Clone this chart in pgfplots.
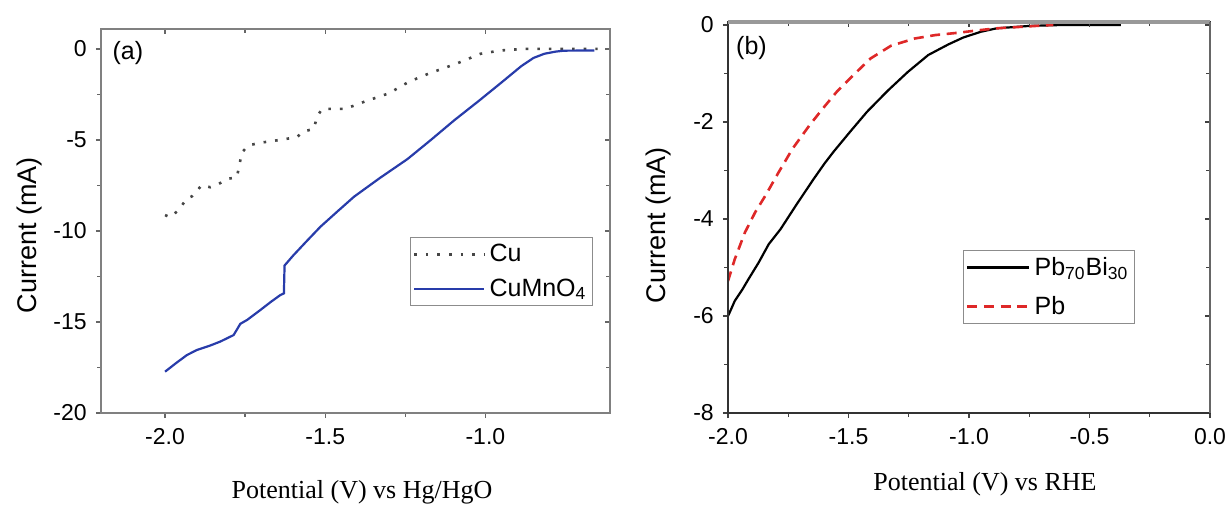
\documentclass[border=0pt]{standalone}
\usepackage{fontspec}
\setmainfont{Liberation Sans}
\newfontfamily\timesfont{Liberation Serif}
\usepackage{pgfplots}
\pgfplotsset{compat=1.18}
\definecolor{cublue}{RGB}{40,60,170}
\definecolor{pbred}{RGB}{222,40,40}
\definecolor{cugray}{RGB}{70,70,70}

\pgfplotstableread{
x y
-2.000 -9.13
-1.984 -9.25
-1.958 -8.86
-1.932 -8.22
-1.916 -8.10
-1.885 -7.48
-1.859 -7.60
-1.838 -7.48
-1.807 -7.15
-1.776 -7.05
-1.770 -6.57
-1.760 -5.68
-1.739 -5.30
-1.700 -5.15
-1.660 -5.05
-1.588 -4.85
-1.570 -4.55
-1.536 -4.40
-1.525 -3.71
-1.510 -3.30
-1.438 -3.30
-1.376 -2.89
-1.301 -2.44
-1.239 -1.81
-1.177 -1.36
-1.090 -0.81
-1.015 -0.27
-0.953 -0.09
-0.878 0
-0.650 0
}\cudata

\pgfplotstableread{
x y
-2.000 -17.73
-1.965 -17.25
-1.932 -16.82
-1.901 -16.54
-1.860 -16.30
-1.828 -16.08
-1.807 -15.90
-1.786 -15.72
-1.765 -15.10
-1.744 -14.89
-1.703 -14.35
-1.670 -13.90
-1.640 -13.52
-1.629 -13.43
-1.627 -11.90
-1.600 -11.35
-1.560 -10.60
-1.515 -9.77
-1.460 -8.90
-1.410 -8.12
-1.330 -7.10
-1.243 -6.05
-1.170 -5.00
-1.097 -3.92
-1.020 -2.85
-0.950 -1.85
-0.888 -0.95
-0.850 -0.50
-0.816 -0.27
-0.780 -0.15
-0.754 -0.10
-0.660 -0.09
}\cumnodata

\pgfplotstableread{
x y
-2.000 -6.00
-1.997 -5.97
-1.972 -5.69
-1.940 -5.45
-1.915 -5.24
-1.873 -4.90
-1.831 -4.52
-1.782 -4.21
-1.718 -3.72
-1.648 -3.20
-1.600 -2.86
-1.563 -2.62
-1.493 -2.20
-1.423 -1.79
-1.338 -1.36
-1.254 -0.97
-1.169 -0.62
-1.085 -0.40
-1.024 -0.26
-0.950 -0.14
-0.885 -0.07
-0.747 -0.02
-0.600 0
-0.370 0
}\pbbidata

\pgfplotstableread{
x y
-2.000 -5.28
-1.972 -4.83
-1.930 -4.28
-1.887 -3.86
-1.845 -3.52
-1.789 -3.03
-1.732 -2.55
-1.662 -2.07
-1.606 -1.72
-1.549 -1.38
-1.479 -1.03
-1.408 -0.69
-1.324 -0.43
-1.225 -0.28
-1.141 -0.21
-1.042 -0.16
-0.960 -0.11
-0.885 -0.07
-0.719 -0.02
-0.650 0
}\pbdata

\pgfplotsset{
  panelbase/.style={
    scale only axis,
    major tick length=2.6pt, minor tick length=1.8pt,
    minor x tick num=1, minor y tick num=1,
    tick label style={font=\fontsize{11.5}{13}\selectfont},
    /pgf/number format/assume math mode=true,
  },
  mainticks/.style={tick align=outside, xtick pos=bottom, ytick pos=left,
    xticklabel style={yshift=-1.5pt}, yticklabel style={xshift=-1pt}},
  mirrorticks/.style={tick align=inside, xtick pos=top, ytick pos=right,
    xticklabels={}, yticklabels={}, clip=false},
  leg/.style={legend cell align=left,
    legend style={draw=black!45, line width=0.6pt, inner sep=1.2pt,
      font=\fontsize{12.5}{14}\selectfont, row sep=3pt}},
}

\begin{document}
\begin{tikzpicture}
\useasboundingbox (0,0) rectangle (614.5pt,-252pt);

% ---------- panel (a) ----------
\begin{axis}[panelbase, mainticks, leg,
  at={(50.5pt,-206.5pt)}, anchor=south west,
  width=254.5pt, height=192pt,
  xmin=-2.2, xmax=-0.611, ymin=-20, ymax=1.09,
  xtick={-2,-1.5,-1}, xticklabels={-2.0,-1.5,-1.0},
  ytick={0,-5,-10,-15,-20}, yticklabels={0,-5,-10,-15,-20},
  axis line style={black!50, line width=1pt},
  tick style={black!60, line width=0.7pt},
  legend style={at={(0.607,0.458)}, anchor=north west},
  legend image code/.code={\draw[#1] (0pt,0pt) -- (35pt,0pt);},
]
\addplot[cugray, line width=1.3pt, dash pattern=on 1.3pt off 4.5pt] table[x=x,y=y] {\cudata};
\addlegendentry{Cu}
\addplot[cublue, line width=1.1pt] table[x=x,y=y] {\cumnodata};
\addlegendentry{CuMnO\textsubscript{4}}
\node[anchor=north west, inner sep=1pt, font=\fontsize{12.5}{14}\selectfont] at (rel axis cs:0.018,0.975) {(a)};
\end{axis}
\begin{axis}[panelbase, mirrorticks,
  at={(50.5pt,-206.5pt)}, anchor=south west,
  width=254.5pt, height=192pt,
  xmin=-2.2, xmax=-0.611, ymin=-20, ymax=1.09,
  xtick={-2,-1.5,-1}, ytick={0,-5,-10,-15,-20},
  axis line style={black!50, line width=1pt},
  tick style={black!60, line width=0.7pt},
]
\end{axis}

% ---------- panel (b) ----------
\begin{axis}[panelbase, mainticks, leg,
  at={(364pt,-206.5pt)}, anchor=south west,
  width=241pt, height=195.5pt,
  xmin=-2, xmax=0, ymin=-8, ymax=0.06,
  xtick={-2,-1.5,-1,-0.5,0}, xticklabels={-2.0,-1.5,-1.0,-0.5,0.0},
  ytick={0,-2,-4,-6,-8}, yticklabels={0,-2,-4,-6,-8},
  axis line style={black!80, line width=1pt},
  tick style={black!75, line width=0.7pt},
  legend style={at={(0.4876,0.417)}, anchor=north west, row sep=5pt},
  legend image code/.code={\draw[#1] (0pt,0pt) -- (31pt,0pt);},
]
\addplot[black, line width=1.1pt] table[x=x,y=y] {\pbbidata};
\addlegendentry{Pb\textsubscript{70}Bi\textsubscript{30}}
\addplot[pbred, line width=1.3pt, dash pattern=on 5pt off 3.3pt] table[x=x,y=y] {\pbdata};
\addlegendentry{Pb}
\node[anchor=north west, inner sep=1pt, font=\fontsize{12.5}{14}\selectfont] at (rel axis cs:0.012,0.97) {(b)};
\end{axis}
\begin{axis}[panelbase, mirrorticks,
  at={(364pt,-206.5pt)}, anchor=south west,
  width=241pt, height=195.5pt,
  xmin=-2, xmax=0, ymin=-8, ymax=0.06,
  xtick={-2,-1.5,-1,-0.5,0}, ytick={0,-2,-4,-6,-8},
  axis line style={black!80, line width=1pt},
  tick style={black!75, line width=0.7pt},
]
\draw[black!40, line width=2.4pt] (rel axis cs:0,1) -- (rel axis cs:1,1);
\draw[black!60, line width=1pt] (rel axis cs:1,0) -- (rel axis cs:1,1);
\end{axis}

% ---------- axis titles ----------
\node[rotate=90, font=\fontsize{13.5}{15}\selectfont] at (15pt,-117.5pt) {Current (mA)};
\node[rotate=90, font=\fontsize{13.5}{15}\selectfont] at (329pt,-112.5pt) {Current (mA)};
\node[anchor=base, font=\timesfont\fontsize{13}{15}\selectfont] at (181pt,-249pt) {Potential (V) vs Hg/HgO};
\node[anchor=base, font=\timesfont\fontsize{13}{15}\selectfont] at (492.5pt,-245pt) {Potential (V) vs RHE};
\end{tikzpicture}
\end{document}
